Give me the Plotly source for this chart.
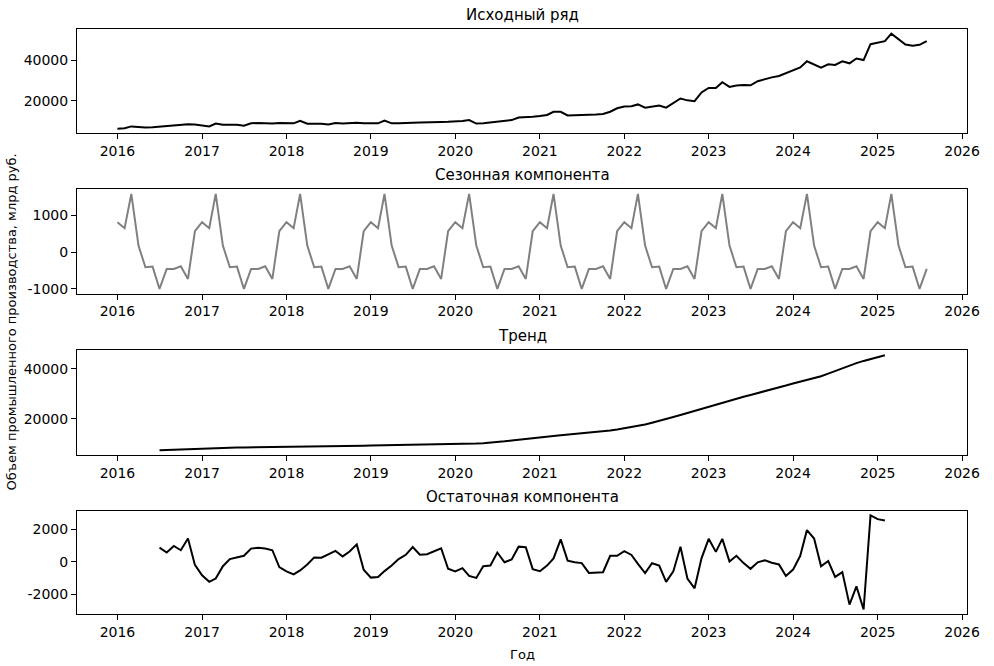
import pandas as pd
import plotly.graph_objects as go
from plotly.subplots import make_subplots

# ---------------- data ----------------
start_month = "2016-01-01"
n_months = 116  # Jan 2016 .. Aug 2025

original = [
    6300, 6500, 7400, 7100, 6900, 7000, 7300, 7600, 8000, 8100, 8500, 8300,        # 2016
    7900, 7400, 8800, 8200, 8200, 8200, 7700, 8900, 9100, 9000, 8800, 9100,        # 2017
    9100, 8900, 10200, 8700, 8700, 8700, 8300, 9100, 8800, 9000, 9200, 8900,       # 2018
    8900, 8900, 10300, 8900, 8900, 9200, 9200, 9300, 9500, 9700, 9600, 9700,       # 2019
    9800, 10100, 10500, 8800, 9000, 9400, 9800, 10300, 10500, 11800, 11800, 12100, # 2020
    12500, 13000, 14600, 14600, 12800, 12900, 12700, 12900, 13200, 13500, 14600, 16300,  # 2021
    17200, 17300, 18200, 16600, 17100, 17700, 16600, 18900, 21100, 20200, 19800, 24100,  # 2022
    26300, 26300, 29100, 26800, 27500, 27800, 27600, 29600, 30700, 31500, 32200, 33500,  # 2023
    35100, 36400, 39400, 38000, 36300, 37900, 37600, 39400, 38400, 40800, 40000, 47800,  # 2024
    48600, 49300, 53000, 50100, 47600, 47100, 47500, 49300,                              # 2025
]

seasonal_pattern = [818, 655, 1591, 182, -409, -391, -1000, -454, -454, -382, -727, 573]  # Jan..Dec

trend_offset = 6  # trend / residual start at Jul 2016
trend = [
    7400, 7520, 7640, 7750, 7860, 7960,                                                  # 2016 Jul-Dec
    8050, 8140, 8220, 8300, 8370, 8440, 8500, 8560, 8610, 8660, 8710, 8760,              # 2017
    8800, 8840, 8880, 8920, 8960, 9000, 9030, 9060, 9090, 9120, 9160, 9200,              # 2018
    9240, 9280, 9310, 9340, 9370, 9400, 9450, 9500, 9550, 9600, 9660, 9730,              # 2019
    9800, 9860, 9950, 10050, 10200, 10400, 10650, 10950, 11300, 11650, 12000, 12300,     # 2020
    12600, 12850, 13100, 13350, 13600, 13850, 14100, 14350, 14650, 14950, 15300, 15700,  # 2021
    16200, 16600, 17100, 17700, 18400, 19100, 19900, 20700, 21500, 22300, 23100, 24000,  # 2022
    24900, 25800, 26600, 27400, 28100, 28800, 29500, 30200, 30950, 31700, 32450, 33250,  # 2023
    34100, 34800, 35500, 36200, 37000, 38000, 39100, 40200, 41200, 42200, 43100, 43900,  # 2024
    44700, 45400,                                                                        # 2025 Jan-Feb
]

residual = [
    860, 560, 960, 700, 1420, -200,                                          # 2016 Jul-Dec
    -840, -1240, -1040, -280, 160, 260, 360, 800, 860, 800, 700, -340,       # 2017
    -600, -780, -540, -180, 260, 240, 460, 660, 320, 620, 1060, -500,        # 2018
    -980, -940, -580, -240, 160, 420, 900, 420, 460, 660, 820, -440,         # 2019
    -600, -400, -880, -1000, -280, -240, 560, -40, 140, 920, 880, -460,      # 2020
    -590, -240, 200, 1370, 60, -40, -90, -690, -690, -650, 360, 360,         # 2021
    640, 410, -140, -700, -100, -240, -1240, -600, 910, -1040, -1640, 200,   # 2022
    1400, 600, 1400, 10, 360, -90, -440, -40, 80, -70, -170, -880,           # 2023
    -490, 360, 1940, 1420, -290, 40, -940, -640, -2640, -1520, -2940, 2840,  # 2024
    2610, 2530,                                                              # 2025 Jan-Feb
]

year_ticks = [2016, 2017, 2018, 2019, 2020, 2021, 2022, 2023, 2024, 2025, 2026]
titles = ["Исходный ряд", "Сезонная компонента", "Тренд", "Остаточная компонента"]
y_ticks = [[20000, 40000], [-1000, 0, 1000], [20000, 40000], [-2000, 0, 2000]]
y_label = "Объем промышленного производства, млрд руб."
x_label = "Год"

# ---------------- derived ----------------
dates = pd.date_range(start_month, periods=n_months, freq="MS")
seasonal = [seasonal_pattern[d.month - 1] for d in dates]
dates_tr = dates[trend_offset:trend_offset + len(trend)]

W, H = 994, 666
left, right = 78, 980
panels_px = [(29, 134), (190, 295), (352, 457), (513, 617)]

fig = make_subplots(rows=4, cols=1)
series = [(dates, original, "black"), (dates, seasonal, "#808080"),
          (dates_tr, trend, "black"), (dates_tr, residual, "black")]
for i, (xs, ys, col) in enumerate(series):
    fig.add_trace(go.Scatter(x=xs, y=ys, mode="lines",
                             line=dict(color=col, width=2), showlegend=False,
                             hoverinfo="skip"), row=i + 1, col=1)

span = dates[-1] - dates[0]
xr = [dates[0] - 0.05 * span, dates[-1] + 0.05 * span]
tickvals = [pd.Timestamp(f"{y}-01-01") for y in year_ticks]

FONT = "DejaVu Sans"
annotations = []
for i, (top, bot) in enumerate(panels_px):
    ys = [original, seasonal, trend, residual][i]
    lo, hi = min(ys), max(ys)
    m = 0.05 * (hi - lo)
    xa = "xaxis" if i == 0 else f"xaxis{i+1}"
    ya = "yaxis" if i == 0 else f"yaxis{i+1}"
    fig.layout[xa].update(
        domain=[left / W, right / W], range=xr, tickvals=tickvals,
        ticktext=[str(y) for y in year_ticks], ticks="outside", ticklen=5,
        tickcolor="black", showline=True, linecolor="black", linewidth=1,
        mirror=True, showgrid=False, zeroline=False,
        tickfont=dict(family=FONT, size=14, color="black"))
    fig.layout[ya].update(
        domain=[1 - bot / H, 1 - top / H], range=[lo - m, hi + m],
        tickvals=y_ticks[i], ticktext=[str(v) for v in y_ticks[i]],
        ticks="outside", ticklen=5, tickcolor="black", showline=True,
        linecolor="black", linewidth=1, mirror=True, showgrid=False,
        zeroline=False,
        tickfont=dict(family=FONT, size=14, color="black"))
    annotations.append(dict(
        text=titles[i], xref="paper", yref="paper", x=(left + right) / 2 / W,
        y=1 - (top - 3) / H, xanchor="center", yanchor="bottom", showarrow=False,
        font=dict(family=FONT, size=15, color="black")))

annotations.append(dict(text=y_label, xref="paper", yref="paper", x=12 / W,
                        y=1 - 323 / H, textangle=-90, xanchor="center",
                        yanchor="middle", showarrow=False,
                        font=dict(family=FONT, size=13, color="black")))
annotations.append(dict(text=x_label, xref="paper", yref="paper",
                        x=(left + right) / 2 / W, y=1 - 657 / H,
                        xanchor="center", yanchor="middle", showarrow=False,
                        font=dict(family=FONT, size=13, color="black")))

fig.update_layout(width=W, height=H, margin=dict(l=0, r=0, t=0, b=0),
                  paper_bgcolor="white", plot_bgcolor="white",
                  annotations=annotations, showlegend=False, hovermode=False)

# remove the default page margin so the 994x666 figure fills the window exactly
fig.write_html("out.html", config={"displayModeBar": False, "staticPlot": True},
               post_script="document.body.style.margin='0';document.body.style.overflow='hidden';")
